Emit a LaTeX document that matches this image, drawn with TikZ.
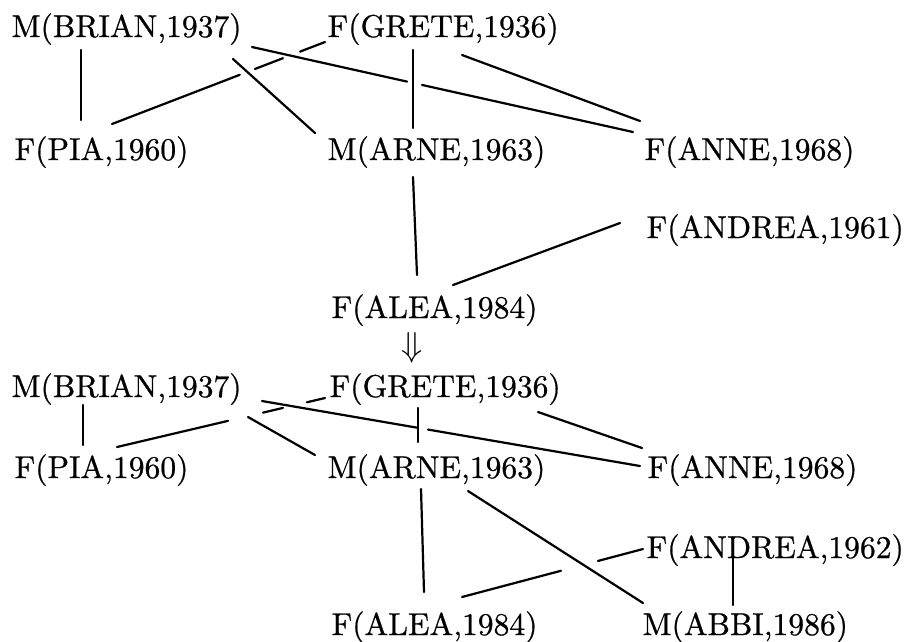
\documentclass[tikz,border=0pt]{standalone}
\usepackage{fontspec}
\newfontfamily\namefont[FakeBold=0.7]{Latin Modern Roman}
\usetikzlibrary{calc}
\begin{document}
\begin{tikzpicture}[x=0.3165pt,y=-0.3165pt,
  person/.style={anchor=base west,inner sep=0pt,font=\namefont\fontsize{10}{12}\selectfont},
  link/.style={line width=0.7pt,line cap=round}]
\useasboundingbox (0,0) rectangle (907,641);

% ---- family before the update ----
\node[person] (brianA)  at (11,37)   {M(BRIAN,1937)};
\node[person] (greteA)  at (327,37)  {F(GRETE,1936)};
\node[person] (piaA)    at (14,160)  {F(PIA,1960)};
\node[person] (arneA)   at (327,160) {M(ARNE,1963)};
\node[person] (anneA)   at (644,160) {F(ANNE,1968)};
\node[person] (andreaA) at (646,238) {F(ANDREA,1961)};
\node[person] (aleaA)   at (331,318) {F(ALEA,1984)};

\node[inner sep=0pt,font=\fontsize{10.5}{12}\selectfont] (step) at (412,348) {$\Downarrow$};

% ---- family after the update ----
\node[person] (brianB)  at (11,397)  {M(BRIAN,1937)};
\node[person] (greteB)  at (329,397) {F(GRETE,1936)};
\node[person] (piaB)    at (14,478)  {F(PIA,1960)};
\node[person] (arneB)   at (327,478) {M(ARNE,1963)};
\node[person] (anneB)   at (647,478) {F(ANNE,1968)};
\node[person] (andreaB) at (646,558) {F(ANDREA,1962)};
\node[person] (aleaB)   at (331,635) {F(ALEA,1984)};
\node[person] (abbiB)   at (642,635) {M(ABBI,1986)};

% line ends, upper tree
\coordinate (a1) at (81,50);   \coordinate (a2) at (81,120);
\coordinate (a3) at (112,124); \coordinate (a4) at (325,42);
\coordinate (a5) at (233,59);  \coordinate (a6) at (315,133);
\coordinate (a7) at (252,47);  \coordinate (a8) at (633,132);
\coordinate (a9) at (413,50);  \coordinate (a10) at (413,128);
\coordinate (a11) at (462,55); \coordinate (a12) at (640,121);
\coordinate (a13) at (413,177);\coordinate (a14) at (417,275);
\coordinate (a15) at (620,223);\coordinate (a16) at (453,285);

% line ends, lower tree
\coordinate (b1) at (83,405);  \coordinate (b2) at (83,445);
\coordinate (b3) at (117,447); \coordinate (b4) at (325,398);
\coordinate (b5) at (248,417); \coordinate (b6) at (315,455);
\coordinate (b7) at (262,401); \coordinate (b8) at (640,466);
\coordinate (b9) at (418,408); \coordinate (b10) at (418,442);
\coordinate (b11) at (538,412);\coordinate (b12) at (642,448);
\coordinate (b13) at (421,489);\coordinate (b14) at (424,592);
\coordinate (b15) at (468,491);\coordinate (b16) at (643,603);
\coordinate (b17) at (462,597);\coordinate (b18) at (643,549);
\coordinate (b19) at (733,558);\coordinate (b20) at (733,605);

% upper tree
\draw[link] (a1) -- (a2);
\draw[link] (a3) -- ($(a3)!0.60!(a4)$)
            ($(a3)!0.671!(a4)$) -- ($(a3)!0.803!(a4)$)
            ($(a3)!0.883!(a4)$) -- (a4);
\draw[link] (a5) -- (a6);
\draw[link] (a7) -- ($(a7)!0.407!(a8)$) ($(a7)!0.446!(a8)$) -- (a8);
\draw[link] (a9) -- (a10);
\draw[link] (a11) -- (a12);
\draw[link] (a13) -- (a14);
\draw[link] (a15) -- (a16);

% lower tree
\draw[link] (b1) -- (b2);
\draw[link] (b3) -- ($(b3)!0.534!(b4)$)
            ($(b3)!0.702!(b4)$) -- ($(b3)!0.798!(b4)$)
            ($(b3)!0.913!(b4)$) -- (b4);
\draw[link] (b5) -- (b6);
\draw[link] (b7) -- ($(b7)!0.413!(b8)$) ($(b7)!0.439!(b8)$) -- (b8);
\draw[link] (b9) -- (b10);
\draw[link] (b11) -- (b12);
\draw[link] (b13) -- (b14);
\draw[link] (b15) -- (b16);
\draw[link] (b17) -- ($(b17)!0.547!(b18)$) ($(b17)!0.751!(b18)$) -- (b18);
\draw[link] (b19) -- (b20);
\end{tikzpicture}
\end{document}
